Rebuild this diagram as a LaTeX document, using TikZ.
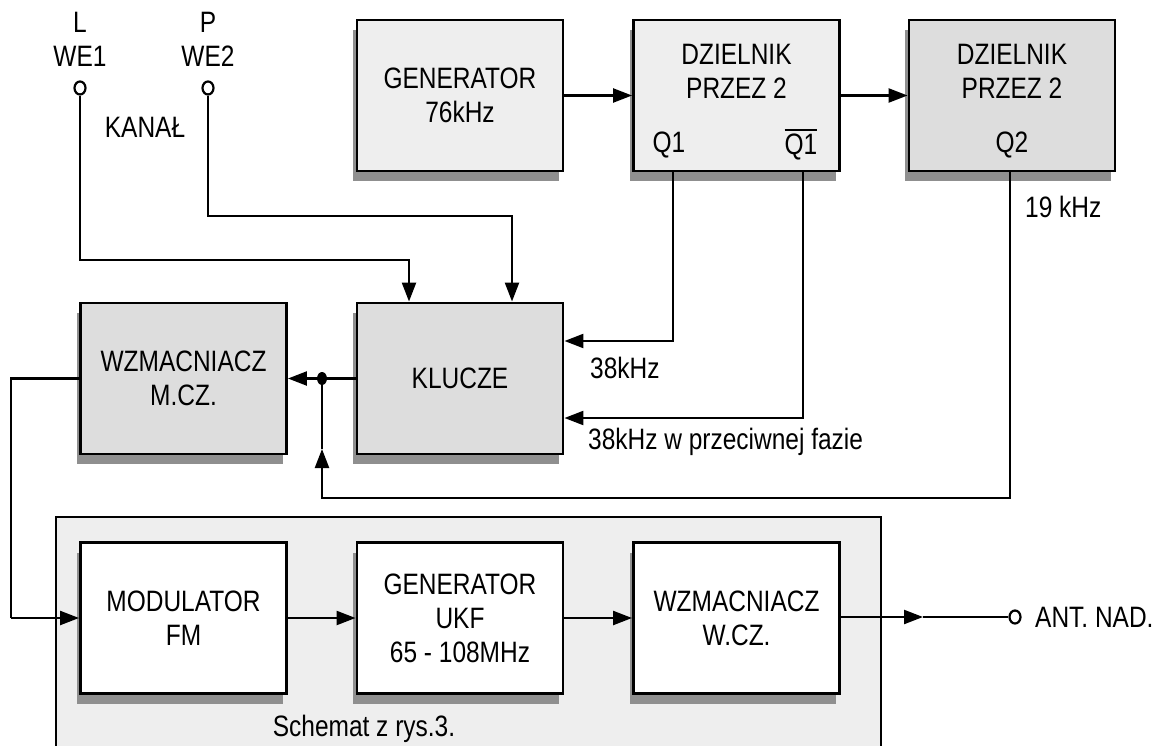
\documentclass[tikz,border=0pt]{standalone}
\usepackage{fontspec}
\setmainfont{Liberation Sans}[FakeStretch=0.83]
\usetikzlibrary{arrows.meta,shadows,shapes.geometric}
\definecolor{lightfill}{HTML}{EEEEEE}
\definecolor{darkfill}{HTML}{DDDDDD}
\definecolor{shd}{HTML}{8F8F8F}
\definecolor{bgfill}{HTML}{EEEEEE}
\newcommand{\ovlq}[1]{\vbox{\hrule height 2.2pt\kern 3.5pt\hbox{#1}}}
\begin{document}
\begin{tikzpicture}[x=1pt,y=-1pt,
  font=\fontsize{29.5}{34}\selectfont,
  blk/.style={draw,line width=2.9pt,minimum width=206pt,minimum height=151pt,inner sep=0pt,align=center,
    general shadow={fill=shd,shadow xshift=-4pt,shadow yshift=-10pt}},
  wire/.style={line width=2.3pt},
  arr/.style={line width=2.3pt,-{Triangle[length=19pt,width=14pt]}},
  term/.style={ellipse,draw,line width=2.2pt,fill=white,minimum width=11pt,minimum height=13pt,inner sep=0pt},
  lbl/.style={inner sep=0pt,align=center}]
\useasboundingbox (0,0) rectangle (1162,746);
% background frame of the lower part
\fill[bgfill] (56,517) rectangle (881,746);
\draw[line width=1.6pt] (56,746) -- (56,517) -- (881,517) -- (881,746);
% blocks
\node[blk,fill=lightfill] (gen) at (460,95.5) {GENERATOR\\76kHz};
\node[blk,fill=lightfill] (dz1) at (736.5,95.5) {};
\node[blk,fill=darkfill] (dz2) at (1012,95.5) {};
\node[blk,fill=darkfill] (kl) at (460,378.5) {KLUCZE};
\node[blk,fill=darkfill] (wzm) at (183.5,378.5) {WZMACNIACZ\\M.CZ.};
\node[blk,fill=white] (mod) at (183.5,618) {MODULATOR\\FM};
\node[blk,fill=white] (ukf) at (460,618) {GENERATOR\\UKF\\65 - 108MHz};
\node[blk,fill=white] (wzw) at (736.5,618) {WZMACNIACZ\\W.CZ.};
% texts inside dividers
\node[lbl] (dz1t) at (736.5,71.5) {DZIELNIK\\PRZEZ 2};
\node[lbl] (dz2t) at (1012,71.5) {DZIELNIK\\PRZEZ 2};
\node[lbl] (q1t) at (669,145) {Q1};
\node[lbl,anchor=base] (q1bt) at (801,155) {\ovlq{Q1}};
\node[lbl] (q2t) at (1012,145) {Q2};
% inputs
\node[lbl] (Lt) at (80,39) {L\\WE1};
\node[lbl] (Pt) at (208,39) {P\\WE2};
\node[term] (we1) at (80,88) {};
\node[term] (we2) at (208,88) {};
\node[lbl] (kanal) at (145,127) {KANAŁ};
% labels
\node[lbl,anchor=west] (l38) at (590,368) {38kHz};
\node[lbl,anchor=west] (l38b) at (588,442) {38kHz w przeciwnej fazie};
\node[lbl,anchor=west] (l19) at (1025,207) {19 kHz};
\node[term] (ant) at (1015,617) {};
\node[lbl,anchor=west] (antt) at (1035,617) {ANT. NAD.};
\node[lbl] (sch) at (364,729) {Schemat z rys.3.};
% coordinates
\coordinate (c1) at (80,260);
\coordinate (c1b) at (409,260);
\coordinate (c2) at (208,216);
\coordinate (c2b) at (512,216);
\coordinate (q1) at (673,171);
\coordinate (q1b) at (803,171);
\coordinate (q2) at (1010,171);
\coordinate (q2d) at (1010,498);
\coordinate (fbl) at (322,498);
\coordinate (fbtip) at (322,449);
\node[ellipse,fill=black,minimum width=10pt,minimum height=13pt,inner sep=0pt] (dot) at (322,378.5) {};
\coordinate (lo1) at (11,378.5);
\coordinate (lo2) at (11,618);
\coordinate (anttip) at (923,617);
% connectors
\draw[arr] (gen.east) -- (dz1.west);
\draw[arr] (dz1.east) -- (dz2.west);
\draw[arr] (we1.south) -- (c1) -- (c1b) -- (c1b |- kl.north);
\draw[arr] (we2.south) -- (c2) -- (c2b) -- (c2b |- kl.north);
\draw[arr] (q1) |- (kl.east |- 0,341);
\draw[arr] (q1b) |- (kl.east |- 0,418);
\draw[arr] (kl.west) -- (wzm.east);
\draw[arr] (q2) -- (q2d) -- (fbl) -- (fbtip);
\draw[wire] (fbtip) -- (dot);
\draw[wire] (wzm.west) -- (lo1) -- (lo2);
\draw[arr] (lo2) -- (mod.west);
\draw[arr] (mod.east) -- (ukf.west);
\draw[arr] (ukf.east) -- (wzw.west);
\draw[arr] (wzw.east |- anttip) -- (anttip);
\draw[wire] (anttip) -- (ant.west);
\end{tikzpicture}
\end{document}
